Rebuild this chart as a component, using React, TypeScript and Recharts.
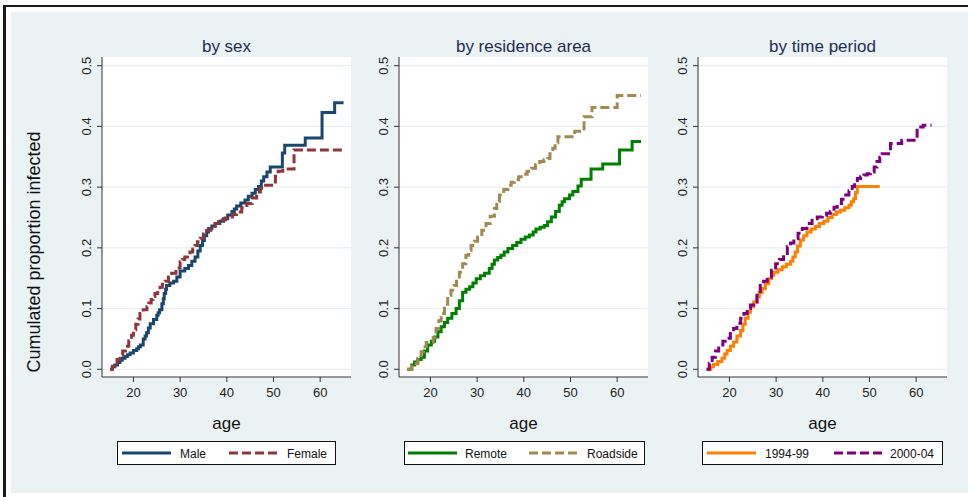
import React from "react";
import { LineChart, Line, XAxis, YAxis, CartesianGrid } from "recharts";

// ---------- DATA (age, cumulated proportion infected) ----------
const xTicks = [20, 30, 40, 50, 60];
const yTicks = [0, 0.1, 0.2, 0.3, 0.4, 0.5];

const maleAge = [15, 15.5, 16, 16.6, 17.1, 17.6, 18.2, 18.7, 19.3, 20, 20.7, 21.1, 21.5, 22.1, 22.5, 22.8, 23.2, 23.6, 24.3, 25, 25.3, 25.6, 26.1, 26.4, 26.6, 26.9, 27.1, 27.8, 28.6, 29.3, 30, 31, 31.8, 32.5, 33.2, 33.8, 34.3, 34.8, 35.2, 35.7, 36.1, 36.8, 37.5, 38.5, 39.3, 40.2, 41.1, 41.6, 42.1, 43, 43.9, 44.6, 45.4, 46.1, 46.8, 47.4, 47.9, 48.6, 49.3, 51.9, 52.4, 56.8, 60.4, 63.1, 65];
const maleCum = [0, 0.004, 0.007, 0.011, 0.015, 0.018, 0.021, 0.024, 0.027, 0.031, 0.034, 0.037, 0.04, 0.05, 0.055, 0.06, 0.068, 0.075, 0.082, 0.089, 0.093, 0.098, 0.108, 0.116, 0.125, 0.132, 0.138, 0.142, 0.145, 0.152, 0.162, 0.166, 0.171, 0.178, 0.185, 0.195, 0.204, 0.212, 0.22, 0.226, 0.232, 0.236, 0.24, 0.244, 0.248, 0.254, 0.26, 0.264, 0.269, 0.274, 0.279, 0.285, 0.29, 0.296, 0.301, 0.31, 0.317, 0.325, 0.333, 0.356, 0.369, 0.381, 0.423, 0.439, 0.439];

const femaleAge = [15, 15.5, 16, 16.5, 17.1, 17.7, 18.3, 19, 19.6, 20, 20.5, 21, 21.4, 22.1, 22.9, 23.3, 23.8, 24.2, 24.6, 25.2, 25.7, 26.2, 26.8, 27.5, 28.2, 29.1, 30, 30.5, 31, 31.6, 32.1, 32.7, 33.2, 33.7, 34.3, 35, 35.7, 36.6, 37.5, 38.2, 39, 39.7, 40.4, 41.2, 42.1, 43.2, 44.3, 45.4, 46.4, 47.2, 47.9, 50.4, 51, 52, 54.4, 65];
const femaleCum = [0, 0.005, 0.01, 0.016, 0.023, 0.03, 0.038, 0.047, 0.056, 0.065, 0.074, 0.083, 0.092, 0.098, 0.103, 0.109, 0.115, 0.12, 0.125, 0.13, 0.135, 0.14, 0.145, 0.152, 0.158, 0.167, 0.177, 0.181, 0.185, 0.189, 0.193, 0.198, 0.204, 0.21, 0.216, 0.223, 0.229, 0.235, 0.24, 0.243, 0.246, 0.249, 0.251, 0.255, 0.259, 0.266, 0.273, 0.282, 0.292, 0.298, 0.303, 0.318, 0.326, 0.33, 0.361, 0.361];

const remoteAge = [15, 16, 16.6, 17.3, 18, 18.7, 19.4, 20.2, 20.9, 21.6, 22.3, 23, 23.7, 24.6, 25.5, 26.2, 26.9, 27.6, 28.4, 29.1, 29.8, 30.7, 31.6, 32.6, 33.2, 33.7, 34.4, 35.1, 35.8, 36.6, 37.6, 38.5, 39.4, 40.3, 41.2, 42, 42.6, 43.5, 44.4, 45.1, 45.9, 46.8, 47.6, 48.2, 48.7, 49.8, 50.5, 51.6, 52.3, 54.4, 56.9, 60.5, 63.2, 65.1];
const remoteCum = [0, 0.007, 0.012, 0.016, 0.02, 0.03, 0.04, 0.046, 0.053, 0.062, 0.07, 0.077, 0.084, 0.092, 0.1, 0.113, 0.127, 0.132, 0.136, 0.142, 0.149, 0.154, 0.158, 0.166, 0.173, 0.18, 0.184, 0.188, 0.193, 0.199, 0.204, 0.209, 0.214, 0.218, 0.221, 0.226, 0.231, 0.234, 0.237, 0.243, 0.251, 0.26, 0.27, 0.276, 0.281, 0.287, 0.293, 0.302, 0.313, 0.33, 0.338, 0.361, 0.375, 0.375];

const roadsideAge = [15, 16, 16.6, 17.3, 18, 18.5, 19.1, 20.6, 21.2, 21.8, 22.3, 23, 23.7, 24.4, 25.1, 25.6, 26.2, 26.9, 27.6, 28.2, 28.7, 29.4, 30.1, 31, 31.9, 32.8, 33.7, 34.2, 34.8, 35.7, 36.6, 37.3, 38, 38.9, 39.8, 40.7, 41.6, 42.5, 43.4, 44.3, 45.1, 45.6, 46.2, 46.7, 47.3, 50.9, 52.9, 54.6, 60, 65.1];
const roadsideCum = [0, 0.005, 0.009, 0.018, 0.029, 0.037, 0.044, 0.052, 0.067, 0.08, 0.092, 0.107, 0.122, 0.13, 0.138, 0.149, 0.16, 0.174, 0.188, 0.196, 0.204, 0.211, 0.218, 0.229, 0.24, 0.252, 0.265, 0.276, 0.287, 0.296, 0.303, 0.308, 0.312, 0.317, 0.321, 0.326, 0.331, 0.337, 0.342, 0.345, 0.347, 0.355, 0.364, 0.373, 0.383, 0.392, 0.416, 0.431, 0.451, 0.451];

const p9499Age = [15.1, 16, 16.6, 17.5, 18.4, 19, 19.5, 20.2, 20.9, 21.6, 22.4, 22.9, 23.4, 24, 24.5, 25.2, 25.9, 26.4, 27, 27.7, 28.4, 29, 29.5, 30.4, 31.3, 32.2, 33.1, 33.6, 34.1, 34.6, 35.2, 35.9, 36.6, 37.5, 38.4, 39.3, 40.2, 41.1, 42, 42.9, 43.8, 44.7, 45.6, 46.1, 46.6, 47, 47.4, 52.2];
const p9499Cum = [0, 0.004, 0.008, 0.013, 0.018, 0.025, 0.031, 0.038, 0.045, 0.055, 0.064, 0.074, 0.084, 0.094, 0.103, 0.111, 0.119, 0.126, 0.133, 0.141, 0.149, 0.155, 0.16, 0.164, 0.169, 0.173, 0.178, 0.185, 0.193, 0.203, 0.213, 0.22, 0.226, 0.231, 0.235, 0.24, 0.244, 0.25, 0.255, 0.259, 0.262, 0.266, 0.27, 0.276, 0.281, 0.291, 0.301, 0.301];

const p0004Age = [15.1, 15.7, 16.3, 17, 17.7, 18.6, 19.5, 20.2, 20.9, 21.6, 22.4, 23.1, 23.8, 24.5, 25.2, 25.9, 26.6, 27.3, 28.1, 29, 29.9, 30.7, 31.6, 32.4, 33.1, 33.8, 34.7, 35.6, 36.6, 37.7, 38.8, 39.9, 40.8, 41.6, 42.4, 43.1, 44, 44.9, 45.6, 46.3, 46.8, 47.4, 48.1, 48.8, 49.5, 50.2, 51, 51.6, 52.2, 52.7, 54.5, 56.9, 60.2, 61.5, 63.3];
const p0004Cum = [0, 0.01, 0.02, 0.03, 0.04, 0.046, 0.051, 0.059, 0.067, 0.076, 0.084, 0.092, 0.1, 0.106, 0.111, 0.125, 0.138, 0.145, 0.152, 0.163, 0.174, 0.181, 0.188, 0.202, 0.208, 0.215, 0.224, 0.232, 0.24, 0.248, 0.251, 0.254, 0.257, 0.26, 0.267, 0.273, 0.28, 0.287, 0.294, 0.301, 0.308, 0.314, 0.317, 0.32, 0.322, 0.325, 0.333, 0.342, 0.349, 0.355, 0.372, 0.377, 0.399, 0.402, 0.402];

const panelTitles = ["by sex", "by residence area", "by time period"];
const seriesNames = [["Male", "Female"], ["Remote", "Roadside"], ["1994-99", "2000-04"]];

const toRows = (ages: number[], vals: number[]) => ages.map((a, i) => ({ x: a, y: vals[i] }));

// ---------- STYLE / LAYOUT ----------
const FONT = "'Liberation Sans', Arial, Helvetica, sans-serif";
const BG = "#EAF2F3";
const PLOT_LEFTS = [102, 399, 698];
const PLOT_W = 249;
const PLOT_TOP = 57;
const PLOT_H = 320;
const YAXIS_W = 60;
const CHART_TOP = 40;
const X_DOMAIN: [number, number] = [13.27, 66.6];
const Y_DOMAIN: [number, number] = [-0.0127, 0.5143];

const seriesStyles = [
  [{ color: "#1A476F", dash: undefined }, { color: "#90353B", dash: "9 4" }],
  [{ color: "#008000", dash: undefined }, { color: "#A08A50", dash: "9 4" }],
  [{ color: "#FF8000", dash: undefined }, { color: "#800080", dash: "9 4" }],
];

const seriesData = [
  [toRows(maleAge, maleCum), toRows(femaleAge, femaleCum)],
  [toRows(remoteAge, remoteCum), toRows(roadsideAge, roadsideCum)],
  [toRows(p9499Age, p9499Cum), toRows(p0004Age, p0004Cum)],
];

// legend geometry: [boxLeft, boxRight, sample1Left, text1Left, sample2Left, text2Left]
const legendGeo = [
  [117, 335, 122, 180, 229, 287],
  [404, 644, 408, 465, 529, 587],
  [702, 942, 707, 765, 834, 890],
];

const YTick = (props: any) => {
  const { x, y, payload } = props;
  return (
    <text
      x={x}
      y={y}
      transform={`rotate(-90 ${x} ${y})`}
      textAnchor="middle"
      fontSize={13}
      fontFamily={FONT}
      fill="#222"
    >
      {Number(payload.value).toFixed(1)}
    </text>
  );
};

function Panel({ idx }: { idx: number }) {
  const left = PLOT_LEFTS[idx] - YAXIS_W;
  return (
    <div style={{ position: "absolute", left, top: CHART_TOP }}>
      <LineChart
        width={YAXIS_W + PLOT_W + 10}
        height={PLOT_TOP - CHART_TOP + PLOT_H + 30}
        margin={{ top: PLOT_TOP - CHART_TOP, right: 10, bottom: 0, left: 0 }}
      >
        <CartesianGrid vertical={false} stroke="#E3ECEF" fill="#FFFFFF" horizontalValues={yTicks} />
        <XAxis
          dataKey="x"
          type="number"
          domain={X_DOMAIN}
          allowDataOverflow
          ticks={xTicks}
          interval={0}
          height={30}
          tickSize={5}
          tickMargin={6}
          stroke="#333"
          tick={{ fontSize: 13, fill: "#222", fontFamily: FONT }}
        />
        <YAxis
          dataKey="y"
          type="number"
          domain={Y_DOMAIN}
          allowDataOverflow
          ticks={yTicks}
          interval={0}
          width={YAXIS_W}
          tickSize={5}
          tickMargin={6}
          stroke="#333"
          tick={<YTick />}
        />
        {seriesData[idx].map((d, s) => (
          <Line
            key={s}
            data={d}
            dataKey="y"
            name={seriesNames[idx][s]}
            type="stepAfter"
            stroke={seriesStyles[idx][s].color}
            strokeWidth={3}
            strokeDasharray={seriesStyles[idx][s].dash}
            dot={false}
            activeDot={false}
            isAnimationActive={false}
          />
        ))}
      </LineChart>
    </div>
  );
}

function Overlay() {
  return (
    <svg
      width={968}
      height={497}
      style={{ position: "absolute", left: 0, top: 0, pointerEvents: "none" }}
      fontFamily={FONT}
    >
      {panelTitles.map((t, i) => (
        <text key={"t" + i} x={PLOT_LEFTS[i] + PLOT_W / 2} y={52} textAnchor="middle" fontSize={17} fill="#1F2D56">
          {t}
        </text>
      ))}
      {panelTitles.map((_, i) => (
        <text key={"a" + i} x={PLOT_LEFTS[i] + PLOT_W / 2} y={429} textAnchor="middle" fontSize={17} fill="#111">
          age
        </text>
      ))}
      <text x={40} y={252} transform="rotate(-90 40 252)" textAnchor="middle" fontSize={18} fill="#111">
        Cumulated proportion infected
      </text>
      {legendGeo.map((g, i) => (
        <g key={"l" + i}>
          <rect x={g[0] + 0.5} y={441.5} width={g[1] - g[0]} height={23} fill="#fff" stroke="#111" strokeWidth={1} />
          {[0, 1].map((s) => (
            <g key={s}>
              <line
                x1={g[2 + s * 2]}
                x2={g[2 + s * 2] + 49}
                y1={453}
                y2={453}
                stroke={seriesStyles[i][s].color}
                strokeWidth={3}
                strokeDasharray={seriesStyles[i][s].dash}
              />
              <text x={g[3 + s * 2]} y={457.5} fontSize={12} fill="#111">
                {seriesNames[i][s]}
              </text>
            </g>
          ))}
        </g>
      ))}
    </svg>
  );
}

export default function App() {
  return (
    <div style={{ position: "absolute", left: 0, top: 0, width: 968, height: 497, background: "#fff", overflow: "hidden" }}>
      <div style={{ position: "absolute", left: 3, top: 5, width: 965, height: 2, background: "#1a1a1a" }} />
      <div style={{ position: "absolute", left: 3, top: 5, width: 3, height: 492, background: "#1a1a1a" }} />
      <div style={{ position: "absolute", left: 11, top: 12, width: 957, height: 481, background: BG }} />
      {[0, 1, 2].map((i) => (
        <Panel key={i} idx={i} />
      ))}
      <Overlay />
    </div>
  );
}
